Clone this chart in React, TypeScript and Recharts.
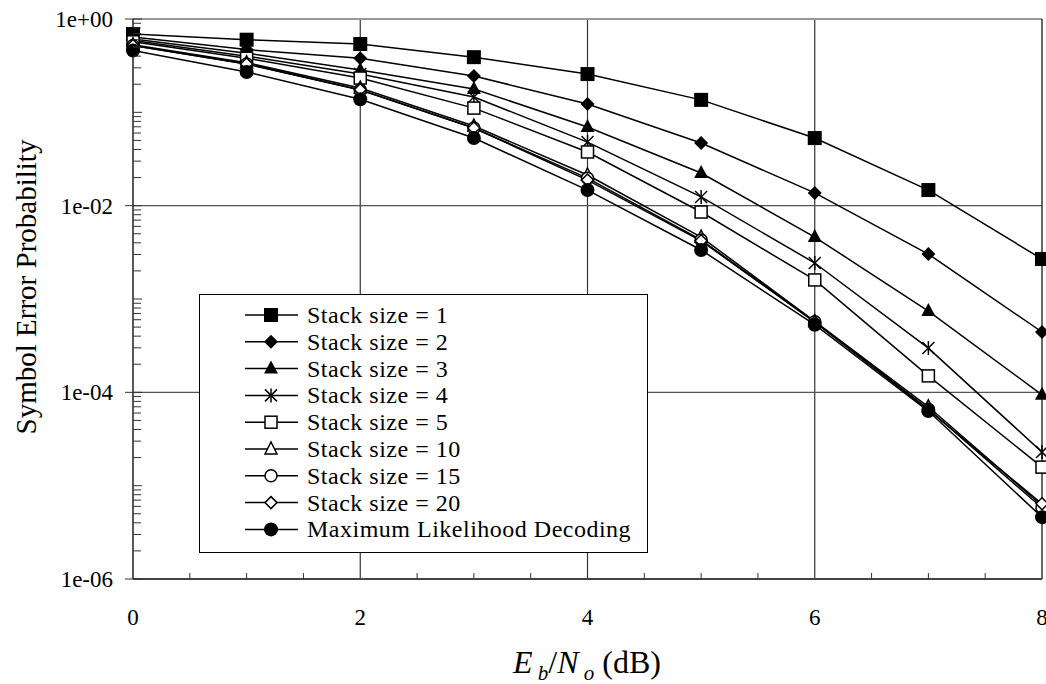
import React from 'react';
import { LineChart, Line, XAxis, YAxis, ReferenceLine, Legend } from 'recharts';

// Eb/No points (dB)
const snrDb = [0, 1, 2, 3, 4, 5, 6, 7, 8];

// symbol error probability per decoder
const stack1 = [0.69, 0.6, 0.54, 0.39, 0.257, 0.136, 0.053, 0.0147, 0.00268];
const stack2 = [0.64, 0.47, 0.38, 0.245, 0.123, 0.0469, 0.0137, 0.00303, 0.000443];
const stack3 = [0.61, 0.43, 0.284, 0.178, 0.0697, 0.0224, 0.00461, 0.000743, 0.000094];
const stack4 = [0.59, 0.4, 0.257, 0.146, 0.048, 0.0124, 0.00243, 0.000298, 0.0000229];
const stack5 = [0.57, 0.38, 0.233, 0.111, 0.0376, 0.00855, 0.0016, 0.00015, 0.0000158];
const stack10 = [0.53, 0.34, 0.182, 0.0714, 0.0213, 0.00461, 0.000575, 0.00007, 0.0000061];
const stack15 = [0.52, 0.33, 0.173, 0.068, 0.0197, 0.0043, 0.00057, 0.000066, 0.0000058];
const stack20 = [0.52, 0.33, 0.175, 0.068, 0.0188, 0.0042, 0.000565, 0.000065, 0.0000064];
const maxLikelihood = [0.46, 0.27, 0.138, 0.053, 0.0147, 0.00335, 0.00053, 0.000063, 0.0000046];

const seriesNames = [
  'Stack size = 1',
  'Stack size = 2',
  'Stack size = 3',
  'Stack size = 4',
  'Stack size = 5',
  'Stack size = 10',
  'Stack size = 15',
  'Stack size = 20',
  'Maximum Likelihood Decoding',
];

// ticks
const xMajorTicks = [0, 2, 4, 6, 8];
const xMinorTicks = [0, 0.5, 1, 1.5, 2, 2.5, 3, 3.5, 4, 4.5, 5, 5.5, 6, 6.5, 7, 7.5, 8];
const yMajorTicks = [1e-6, 1e-4, 1e-2, 1];
const yMajorLabels = ['1e-06', '1e-04', '1e-02', '1e+00'];
const yDecades = [1e-6, 1e-5, 1e-4, 1e-3, 1e-2, 1e-1];
const yMantissas = [1, 2, 3, 4, 5, 6, 7, 8, 9];

const yAllTicks = [...yDecades.flatMap((d) => yMantissas.map((m) => +(m * d).toPrecision(3))), 1];

type Shape =
  | 'square' | 'diamond' | 'triangle' | 'star' | 'squareOpen'
  | 'triangleOpen' | 'circleOpen' | 'diamondOpen' | 'circle';

const seriesList: { key: string; values: number[]; shape: Shape }[] = [
  { key: 's1', values: stack1, shape: 'square' },
  { key: 's2', values: stack2, shape: 'diamond' },
  { key: 's3', values: stack3, shape: 'triangle' },
  { key: 's4', values: stack4, shape: 'star' },
  { key: 's5', values: stack5, shape: 'squareOpen' },
  { key: 's10', values: stack10, shape: 'triangleOpen' },
  { key: 's15', values: stack15, shape: 'circleOpen' },
  { key: 's20', values: stack20, shape: 'diamondOpen' },
  { key: 'ml', values: maxLikelihood, shape: 'circle' },
];

const data = snrDb.map((x, i) => {
  const row: Record<string, number> = { x };
  seriesList.forEach((s) => (row[s.key] = s.values[i]));
  return row;
});

const FONT = '"Liberation Serif", "Times New Roman", serif';

const Marker = ({ shape, cx, cy }: { shape: Shape; cx: number; cy: number }) => {
  const sw = 1.5;
  switch (shape) {
    case 'square':
      return <rect x={cx - 7} y={cy - 7} width={14} height={14} fill="#000" />;
    case 'diamond':
      return <polygon points={`${cx},${cy - 7} ${cx + 7},${cy} ${cx},${cy + 7} ${cx - 7},${cy}`} fill="#000" />;
    case 'triangle':
      return <polygon points={`${cx},${cy - 8} ${cx + 7},${cy + 5} ${cx - 7},${cy + 5}`} fill="#000" />;
    case 'star':
      return (
        <g stroke="#000" strokeWidth={sw}>
          <line x1={cx - 6} y1={cy - 6} x2={cx + 6} y2={cy + 6} />
          <line x1={cx - 6} y1={cy + 6} x2={cx + 6} y2={cy - 6} />
          <line x1={cx} y1={cy - 7} x2={cx} y2={cy + 7} />
        </g>
      );
    case 'squareOpen':
      return <rect x={cx - 6} y={cy - 6} width={12} height={12} fill="#fff" stroke="#000" strokeWidth={sw} />;
    case 'triangleOpen':
      return (
        <polygon points={`${cx},${cy - 7} ${cx + 6},${cy + 5} ${cx - 6},${cy + 5}`} fill="#fff" stroke="#000" strokeWidth={sw} />
      );
    case 'circleOpen':
      return <circle cx={cx} cy={cy} r={6} fill="#fff" stroke="#000" strokeWidth={sw} />;
    case 'diamondOpen':
      return (
        <polygon points={`${cx},${cy - 6} ${cx + 6},${cy} ${cx},${cy + 6} ${cx - 6},${cy}`} fill="#fff" stroke="#000" strokeWidth={sw} />
      );
    case 'circle':
    default:
      return <circle cx={cx} cy={cy} r={7} fill="#000" />;
  }
};

const XTick = (props: any) => {
  const { x, y, payload } = props;
  const v = payload.value;
  const major = xMajorTicks.includes(v);
  return (
    <g>
      {!major && <line x1={x} y1={y} x2={x} y2={y - 6} stroke="#333" strokeWidth={1} />}
      {major && (
        <text x={x} y={y + 46} textAnchor="middle" style={{ fontFamily: FONT, fontSize: 23 }} fill="#000">
          {v}
        </text>
      )}
    </g>
  );
};

const YTick = (props: any) => {
  const { x, y, payload } = props;
  const v = payload.value;
  const idx = yMajorTicks.findIndex((t) => Math.abs(Math.log10(t) - Math.log10(v)) < 1e-6);
  if (idx < 0) {
    const isDecade = Math.abs(Math.log10(v) - Math.round(Math.log10(v))) < 1e-6;
    return <line x1={x} y1={y} x2={x + (isDecade ? 9 : 8)} y2={y} stroke="#333" strokeWidth={1} />;
  }
  return (
    <g>
      <line x1={x - 8} y1={y} x2={x + 9} y2={y} stroke="#333" strokeWidth={1} />
      <text x={x - 20} y={y + 8} textAnchor="end" style={{ fontFamily: FONT, fontSize: 23 }} fill="#000">
        {yMajorLabels[idx]}
      </text>
    </g>
  );
};

const LegendBox = () => (
  <div
    style={{
      width: 449,
      height: 259,
      boxSizing: 'border-box',
      border: '1.5px solid #000',
      background: '#fff',
    }}
  >
    <svg width={446} height={256} style={{ display: 'block' }}>
      {seriesList.map((s, i) => {
        const cy = 20 + i * 26.8;
        return (
          <g key={s.key}>
            <line x1={45} y1={cy} x2={98} y2={cy} stroke="#000" strokeWidth={1.5} />
            <Marker shape={s.shape} cx={71} cy={cy} />
            <text
              x={107}
              y={cy + 8}
              style={{ fontFamily: FONT, fontSize: 24, letterSpacing: 0.5 }}
              fill="#000"
            >
              {seriesNames[i]}
            </text>
          </g>
        );
      })}
    </svg>
  </div>
);

export default function App() {
  return (
    <div style={{ position: 'absolute', left: 0, top: 0, width: 1046, height: 684, background: '#fff' }}>
      <LineChart width={1046} height={684} data={data} margin={{ top: 19, right: 4, bottom: 0, left: 0 }}>
        <XAxis
          dataKey="x"
          type="number"
          domain={[0, 8]}
          ticks={xMinorTicks}
          interval={0}
          height={105}
          tickSize={0}
          tickMargin={0}
          tickLine={false}
          axisLine={{ stroke: '#444', strokeWidth: 2 }}
          tick={<XTick />}
        />
        <YAxis
          type="number"
          scale="log"
          domain={[1e-6, 1]}
          ticks={yAllTicks}
          interval={0}
          width={133}
          tickSize={0}
          tickMargin={0}
          tickLine={false}
          axisLine={{ stroke: '#222', strokeWidth: 1.5 }}
          tick={<YTick />}
        />
        {[2, 4, 6].map((v) => (
          <ReferenceLine key={`gx${v}`} x={v} stroke="#333" strokeWidth={1.2} />
        ))}
        {[1e-2, 1e-4].map((v) => (
          <ReferenceLine key={`gy${v}`} y={v} stroke="#555" strokeWidth={1.2} />
        ))}
        <ReferenceLine y={1} stroke="#999" strokeWidth={2} />
        <ReferenceLine x={8} stroke="#333" strokeWidth={1.5} />
        {seriesList.map((s) => (
          <Line
            key={s.key}
            dataKey={s.key}
            type="linear"
            stroke="#000"
            strokeWidth={1.5}
            isAnimationActive={false}
            dot={(p: any) => (
              <g key={`${s.key}-${p.index}`}>
                <Marker shape={s.shape} cx={p.cx} cy={p.cy} />
              </g>
            )}
            activeDot={false}
          />
        ))}
        <Legend
          layout="vertical"
          align="center"
          verticalAlign="middle"
          wrapperStyle={{ left: 199, top: 294, width: 449, height: 259 }}
          content={() => <LegendBox />}
        />
      </LineChart>
      <div
        style={{
          position: 'absolute',
          left: 26,
          top: 287,
          transform: 'translate(-50%, -50%) rotate(-90deg)',
          fontFamily: FONT,
          fontSize: 29,
          whiteSpace: 'nowrap',
          color: '#000',
        }}
      >
        Symbol Error Probability
      </div>
      <div
        style={{
          position: 'absolute',
          left: 587,
          top: 665,
          transform: 'translate(-50%, -50%)',
          fontFamily: FONT,
          fontSize: 32,
          whiteSpace: 'nowrap',
          color: '#000',
        }}
      >
        <i>E</i>
        <sub style={{ fontSize: 21 }}>
          {' '}
          <i>b</i>
        </sub>
        /<i>N</i>
        <sub style={{ fontSize: 21 }}>
          {' '}
          <i>o</i>
        </sub>{' '}
        (dB)
      </div>
    </div>
  );
}
